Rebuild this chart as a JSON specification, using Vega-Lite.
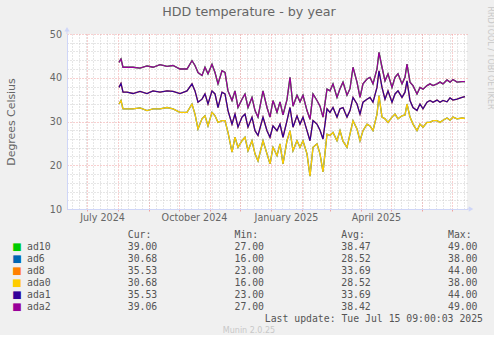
{
 "$schema": "https://vega.github.io/schema/vega-lite/v6.json",
 "background": "#f0f0f0",
 "padding": {"left": 5, "top": 5, "right": 0, "bottom": 0},
 "bounds": "flush",
 "spacing": 26,
 "config": {
  "view": {"stroke": null},
  "font": "DejaVu Sans",
  "axis": {"labelFont": "DejaVu Sans", "labelFontSize": 9.6, "labelColor": "#666666", "titleFont": "DejaVu Sans", "titleFontWeight": "normal", "titleColor": "#666666", "domainColor": "#CFD6F8", "gridDash": [1, 2], "ticks": false, "tickSize": 0}
 },
 "datasets": {
  "temps": [
   {"t": "2024-08-02", "top": 43.5, "mid": 37.8, "bot": 34.0},
   {"t": "2024-08-04", "top": 44.3, "mid": 38.7, "bot": 34.8},
   {"t": "2024-08-06", "top": 42.4, "mid": 36.7, "bot": 32.9},
   {"t": "2024-08-10", "top": 42.4, "mid": 36.7, "bot": 32.9},
   {"t": "2024-08-16", "top": 42.4, "mid": 36.4, "bot": 32.9},
   {"t": "2024-08-23", "top": 42.2, "mid": 36.9, "bot": 33.1},
   {"t": "2024-08-30", "top": 42.7, "mid": 36.4, "bot": 32.5},
   {"t": "2024-09-05", "top": 42.4, "mid": 37.0, "bot": 32.9},
   {"t": "2024-09-12", "top": 43.0, "mid": 36.7, "bot": 32.9},
   {"t": "2024-09-19", "top": 42.6, "mid": 37.0, "bot": 33.2},
   {"t": "2024-09-25", "top": 42.8, "mid": 36.9, "bot": 32.9},
   {"t": "2024-10-02", "top": 42.0, "mid": 36.4, "bot": 32.1},
   {"t": "2024-10-09", "top": 42.0, "mid": 37.0, "bot": 32.1},
   {"t": "2024-10-14", "top": 43.9, "mid": 38.6, "bot": 34.0},
   {"t": "2024-10-17", "top": 42.8, "mid": 37.0, "bot": 31.7},
   {"t": "2024-10-20", "top": 41.2, "mid": 34.4, "bot": 28.3},
   {"t": "2024-10-24", "top": 40.5, "mid": 35.1, "bot": 30.6},
   {"t": "2024-10-27", "top": 42.4, "mid": 36.3, "bot": 31.3},
   {"t": "2024-10-30", "top": 40.9, "mid": 34.0, "bot": 29.0},
   {"t": "2024-11-03", "top": 43.1, "mid": 37.0, "bot": 32.1},
   {"t": "2024-11-06", "top": 41.2, "mid": 36.3, "bot": 31.3},
   {"t": "2024-11-09", "top": 38.6, "mid": 33.2, "bot": 29.8},
   {"t": "2024-11-13", "top": 41.6, "mid": 36.7, "bot": 30.2},
   {"t": "2024-11-16", "top": 41.2, "mid": 36.3, "bot": 30.2},
   {"t": "2024-11-19", "top": 37.0, "mid": 32.5, "bot": 27.5},
   {"t": "2024-11-23", "top": 34.8, "mid": 29.4, "bot": 23.0},
   {"t": "2024-11-26", "top": 37.0, "mid": 31.7, "bot": 26.4},
   {"t": "2024-11-29", "top": 33.2, "mid": 28.7, "bot": 24.1},
   {"t": "2024-12-03", "top": 35.1, "mid": 31.0, "bot": 25.6},
   {"t": "2024-12-06", "top": 36.3, "mid": 31.7, "bot": 26.4},
   {"t": "2024-12-09", "top": 33.2, "mid": 28.7, "bot": 23.3},
   {"t": "2024-12-13", "top": 35.5, "mid": 31.0, "bot": 25.6},
   {"t": "2024-12-16", "top": 32.5, "mid": 27.9, "bot": 22.6},
   {"t": "2024-12-19", "top": 31.0, "mid": 26.8, "bot": 21.0},
   {"t": "2024-12-24", "top": 37.0, "mid": 31.0, "bot": 25.6},
   {"t": "2024-12-28", "top": 33.2, "mid": 27.9, "bot": 22.6},
   {"t": "2024-12-31", "top": 31.0, "mid": 26.4, "bot": 20.3},
   {"t": "2025-01-03", "top": 34.8, "mid": 29.0, "bot": 24.1},
   {"t": "2025-01-07", "top": 32.1, "mid": 27.9, "bot": 22.2},
   {"t": "2025-01-10", "top": 34.5, "mid": 29.4, "bot": 24.9},
   {"t": "2025-01-13", "top": 31.5, "mid": 26.4, "bot": 20.3},
   {"t": "2025-01-17", "top": 35.0, "mid": 30.2, "bot": 25.6},
   {"t": "2025-01-20", "top": 40.1, "mid": 33.2, "bot": 27.9},
   {"t": "2025-01-23", "top": 33.5, "mid": 28.7, "bot": 23.3},
   {"t": "2025-01-27", "top": 36.0, "mid": 31.3, "bot": 25.6},
   {"t": "2025-01-30", "top": 34.5, "mid": 29.4, "bot": 24.1},
   {"t": "2025-02-02", "top": 36.0, "mid": 31.0, "bot": 25.6},
   {"t": "2025-02-06", "top": 32.5, "mid": 27.9, "bot": 22.6},
   {"t": "2025-02-09", "top": 30.5, "mid": 25.6, "bot": 17.5},
   {"t": "2025-02-12", "top": 36.3, "mid": 30.2, "bot": 24.1},
   {"t": "2025-02-16", "top": 34.8, "mid": 29.4, "bot": 24.9},
   {"t": "2025-02-19", "top": 33.5, "mid": 28.0, "bot": 22.6},
   {"t": "2025-02-22", "top": 31.0, "mid": 26.0, "bot": 18.5},
   {"t": "2025-02-26", "top": 37.4, "mid": 32.9, "bot": 27.1},
   {"t": "2025-03-01", "top": 37.0, "mid": 32.1, "bot": 26.8},
   {"t": "2025-03-04", "top": 38.6, "mid": 33.2, "bot": 27.5},
   {"t": "2025-03-08", "top": 35.5, "mid": 31.0, "bot": 25.6},
   {"t": "2025-03-11", "top": 37.5, "mid": 32.9, "bot": 27.9},
   {"t": "2025-03-14", "top": 39.0, "mid": 33.2, "bot": 25.5},
   {"t": "2025-03-18", "top": 36.0, "mid": 31.0, "bot": 24.1},
   {"t": "2025-03-21", "top": 37.5, "mid": 32.5, "bot": 27.1},
   {"t": "2025-03-24", "top": 42.4, "mid": 35.5, "bot": 30.2},
   {"t": "2025-03-28", "top": 39.0, "mid": 34.0, "bot": 28.3},
   {"t": "2025-03-31", "top": 35.5, "mid": 31.7, "bot": 25.6},
   {"t": "2025-04-03", "top": 38.6, "mid": 34.4, "bot": 27.9},
   {"t": "2025-04-07", "top": 39.7, "mid": 35.1, "bot": 29.4},
   {"t": "2025-04-10", "top": 40.1, "mid": 35.5, "bot": 29.0},
   {"t": "2025-04-13", "top": 38.6, "mid": 34.4, "bot": 27.9},
   {"t": "2025-04-17", "top": 42.0, "mid": 37.8, "bot": 31.7},
   {"t": "2025-04-19", "top": 45.8, "mid": 41.6, "bot": 35.9},
   {"t": "2025-04-22", "top": 42.4, "mid": 37.8, "bot": 31.0},
   {"t": "2025-04-25", "top": 39.3, "mid": 35.1, "bot": 30.6},
   {"t": "2025-04-28", "top": 40.9, "mid": 37.0, "bot": 29.8},
   {"t": "2025-05-02", "top": 37.8, "mid": 34.4, "bot": 31.0},
   {"t": "2025-05-05", "top": 40.1, "mid": 36.3, "bot": 31.7},
   {"t": "2025-05-08", "top": 40.9, "mid": 37.0, "bot": 30.6},
   {"t": "2025-05-12", "top": 38.6, "mid": 35.5, "bot": 31.3},
   {"t": "2025-05-15", "top": 40.1, "mid": 36.7, "bot": 31.5},
   {"t": "2025-05-17", "top": 43.1, "mid": 39.3, "bot": 34.0},
   {"t": "2025-05-20", "top": 39.0, "mid": 34.8, "bot": 31.0},
   {"t": "2025-05-23", "top": 38.2, "mid": 33.2, "bot": 29.4},
   {"t": "2025-05-27", "top": 36.3, "mid": 32.5, "bot": 27.9},
   {"t": "2025-05-30", "top": 37.8, "mid": 34.0, "bot": 29.4},
   {"t": "2025-06-02", "top": 37.4, "mid": 32.9, "bot": 28.7},
   {"t": "2025-06-06", "top": 38.2, "mid": 34.4, "bot": 29.8},
   {"t": "2025-06-09", "top": 38.6, "mid": 34.8, "bot": 29.8},
   {"t": "2025-06-12", "top": 38.2, "mid": 34.4, "bot": 30.2},
   {"t": "2025-06-16", "top": 38.6, "mid": 34.9, "bot": 30.2},
   {"t": "2025-06-19", "top": 39.0, "mid": 34.4, "bot": 29.8},
   {"t": "2025-06-22", "top": 38.6, "mid": 34.8, "bot": 30.3},
   {"t": "2025-06-26", "top": 39.5, "mid": 34.5, "bot": 30.8},
   {"t": "2025-06-29", "top": 39.0, "mid": 35.4, "bot": 30.3},
   {"t": "2025-07-02", "top": 39.6, "mid": 34.9, "bot": 31.0},
   {"t": "2025-07-06", "top": 39.0, "mid": 35.1, "bot": 30.6},
   {"t": "2025-07-11", "top": 39.1, "mid": 35.5, "bot": 30.8},
   {"t": "2025-07-14", "top": 39.1, "mid": 35.7, "bot": 30.7}
  ],
  "legend": [
   {"name": "ad10", "cur": "39.00", "min": "27.00", "avg": "38.47", "max": "49.00"},
   {"name": "ad6", "cur": "30.68", "min": "16.00", "avg": "28.52", "max": "38.00"},
   {"name": "ad8", "cur": "35.53", "min": "23.00", "avg": "33.69", "max": "44.00"},
   {"name": "ada0", "cur": "30.68", "min": "16.00", "avg": "28.52", "max": "38.00"},
   {"name": "ada1", "cur": "35.53", "min": "23.00", "avg": "33.69", "max": "44.00"},
   {"name": "ada2", "cur": "39.06", "min": "27.00", "avg": "38.42", "max": "49.00"}
  ],
  "heads": [
   {"col": "cur", "label": "Cur:"},
   {"col": "min", "label": "Min:"},
   {"col": "avg", "label": "Avg:"},
   {"col": "max", "label": "Max:"}
  ]
 },
 "vconcat": [
  {
   "width": 400,
   "height": 175,
   "view": {"fill": "#ffffff", "stroke": null},
   "title": {"text": "HDD temperature - by year", "fontSize": 12.7, "fontWeight": "normal", "color": "#666666", "anchor": "middle", "frame": "group", "dx": -18, "offset": -13},
   "data": {"name": "temps"},
   "resolve": {"axis": {"x": "independent", "y": "independent"}},
   "layer": [
    {
     "mark": {"type": "line", "color": "#00cc00", "strokeWidth": 1.3},
     "encoding": {
      "x": {"field": "t", "type": "temporal", "scale": {"type": "utc", "domain": [{"year": 2024, "month": 6, "date": 11, "utc": true}, {"year": 2025, "month": 7, "date": 16, "utc": true}]},
            "axis": {"orient": "bottom", "tickCount": {"interval": "week", "step": 1}, "grid": true, "gridColor": "#cccccc", "labels": false, "domain": false, "title": null}},
      "y": {"field": "top", "type": "quantitative", "scale": {"domain": [10, 50], "nice": false, "zero": false},
            "axis": {"orient": "left", "values": [12, 14, 16, 18, 22, 24, 26, 28, 32, 34, 36, 38, 42, 44, 46, 48], "grid": true, "gridColor": "#cccccc", "labels": false, "domain": false, "title": null}}
     }
    },
    {
     "mark": {"type": "line", "color": "#0066b3", "strokeWidth": 1.3},
     "encoding": {
      "x": {"field": "t", "type": "temporal",
            "axis": {"orient": "bottom", "values": [{"year": 2024, "month": 7, "date": 1, "utc": true}, {"year": 2024, "month": 8, "date": 1, "utc": true}, {"year": 2024, "month": 9, "date": 1, "utc": true}, {"year": 2024, "month": 10, "date": 1, "utc": true}, {"year": 2024, "month": 11, "date": 1, "utc": true}, {"year": 2024, "month": 12, "date": 1, "utc": true}, {"year": 2025, "month": 1, "date": 1, "utc": true}, {"year": 2025, "month": 2, "date": 1, "utc": true}, {"year": 2025, "month": 3, "date": 1, "utc": true}, {"year": 2025, "month": 4, "date": 1, "utc": true}, {"year": 2025, "month": 5, "date": 1, "utc": true}, {"year": 2025, "month": 6, "date": 1, "utc": true}, {"year": 2025, "month": 7, "date": 1, "utc": true}],
                     "grid": true, "gridColor": "#f0a0a0", "ticks": true, "tickSize": 2, "tickColor": "#f0a0a0", "labels": false, "domain": false, "title": null}},
      "y": {"field": "bot", "type": "quantitative",
            "axis": {"orient": "left", "values": [10, 20, 30, 40, 50], "grid": true, "gridColor": "#f0a0a0", "labels": false, "domain": false, "title": null}}
     }
    },
    {
     "mark": {"type": "line", "color": "#ff8000", "strokeWidth": 1.3},
     "encoding": {
      "x": {"field": "t", "type": "temporal",
            "axis": {"orient": "bottom", "values": [{"year": 2024, "month": 7, "date": 1, "utc": true}, {"year": 2024, "month": 10, "date": 1, "utc": true}, {"year": 2025, "month": 1, "date": 1, "utc": true}, {"year": 2025, "month": 4, "date": 1, "utc": true}],
                     "format": "%B %Y", "labelOffset": 15, "labelPadding": 3, "grid": false, "domain": true, "title": null, "labelFlush": false, "labelOverlap": false}},
      "y": {"field": "mid", "type": "quantitative",
            "axis": {"orient": "left", "values": [10, 20, 30, 40, 50], "labelPadding": 5.5, "grid": false, "domain": true, "title": "Degrees Celsius", "titleFontSize": 10.9, "titleAngle": -90, "titleX": -56, "titleY": 87.5, "titleAlign": "center", "titleBaseline": "middle", "labelFlush": false}}
     }
    },
    {
     "mark": {"type": "line", "color": "#ffcc00", "strokeWidth": 1.3},
     "encoding": {
      "x": {"field": "t", "type": "temporal", "axis": null},
      "y": {"field": "bot", "type": "quantitative",
            "axis": {"orient": "right", "labels": false, "grid": false, "domain": false, "title": "RRDTOOL / TOBI OETIKER", "titleFontSize": 8, "titleColor": "#c8c8c8", "titleAngle": 90, "titleX": 22.5, "titleY": -28, "titleAlign": "left", "titleBaseline": "middle"}}
     }
    },
    {
     "mark": {"type": "line", "color": "#330099", "strokeWidth": 1.3},
     "encoding": {
      "x": {"field": "t", "type": "temporal", "axis": null},
      "y": {"field": "mid", "type": "quantitative", "axis": null}
     }
    },
    {
     "mark": {"type": "line", "color": "#990099", "strokeWidth": 1.3},
     "encoding": {
      "x": {"field": "t", "type": "temporal", "axis": null},
      "y": {"field": "top", "type": "quantitative", "axis": null}
     }
    },
    {
     "data": {"values": [{}]},
     "mark": {"type": "rule", "color": "#CFD6F8"},
     "encoding": {
      "x": {"datum": {"year": 2024, "month": 6, "date": 11, "utc": true}, "type": "temporal", "axis": null},
      "y": {"datum": 50, "type": "quantitative", "axis": null},
      "y2": {"datum": 51.2}
     }
    },
    {
     "data": {"values": [{}]},
     "mark": {"type": "point", "shape": "triangle-up", "filled": true, "size": 28, "color": "#CFD6F8", "opacity": 1},
     "encoding": {
      "x": {"datum": {"year": 2024, "month": 6, "date": 11, "utc": true}, "type": "temporal", "axis": null},
      "y": {"datum": 51.1, "type": "quantitative", "axis": null}
     }
    },
    {
     "data": {"values": [{}]},
     "mark": {"type": "rule", "color": "#CFD6F8"},
     "encoding": {
      "x": {"datum": {"year": 2025, "month": 7, "date": 16, "utc": true}, "type": "temporal", "axis": null},
      "x2": {"datum": {"year": 2025, "month": 7, "date": 19, "utc": true}},
      "y": {"datum": 10, "type": "quantitative", "axis": null}
     }
    },
    {
     "data": {"values": [{}]},
     "mark": {"type": "point", "shape": "triangle-right", "filled": true, "size": 28, "color": "#CFD6F8", "opacity": 1},
     "encoding": {
      "x": {"datum": {"year": 2025, "month": 7, "date": 20, "utc": true}, "type": "temporal", "axis": null},
      "y": {"datum": 10, "type": "quantitative", "axis": null}
     }
    }
   ]
  },
  {
   "width": 427,
   "height": 96,
   "data": {"name": "legend"},
   "layer": [
    {
     "mark": {"type": "text", "font": "DejaVu Sans", "fontSize": 10, "align": "center", "baseline": "middle", "dx": -50, "text": "■"},
     "encoding": {
      "x": {"datum": "name", "type": "nominal", "scale": {"type": "point", "domain": ["name", "cur", "min", "avg", "max"], "padding": 0}, "axis": null},
      "y": {"field": "name", "type": "nominal", "scale": {"type": "point", "domain": ["hdr", "ad10", "ad6", "ad8", "ada0", "ada1", "ada2", "upd", "ver"], "padding": 0}, "axis": null},
      "color": {"field": "name", "type": "nominal", "scale": {"domain": ["ad10", "ad6", "ad8", "ada0", "ada1", "ada2"], "range": ["#00cc00", "#0066b3", "#ff8000", "#ffcc00", "#330099", "#990099"]}, "legend": null}
     }
    },
    {
     "mark": {"type": "text", "font": "DejaVu Sans Mono", "fontSize": 9.8, "color": "#555555", "align": "left", "baseline": "middle", "dx": -40},
     "encoding": {"x": {"datum": "name", "type": "nominal"}, "y": {"field": "name", "type": "nominal"}, "text": {"field": "name"}}
    },
    {
     "mark": {"type": "text", "font": "DejaVu Sans Mono", "fontSize": 9.8, "color": "#555555", "align": "left", "baseline": "middle", "dx": -46},
     "encoding": {"x": {"datum": "cur", "type": "nominal"}, "y": {"field": "name", "type": "nominal"}, "text": {"field": "cur"}}
    },
    {
     "mark": {"type": "text", "font": "DejaVu Sans Mono", "fontSize": 9.8, "color": "#555555", "align": "left", "baseline": "middle", "dx": -46},
     "encoding": {"x": {"datum": "min", "type": "nominal"}, "y": {"field": "name", "type": "nominal"}, "text": {"field": "min"}}
    },
    {
     "mark": {"type": "text", "font": "DejaVu Sans Mono", "fontSize": 9.8, "color": "#555555", "align": "left", "baseline": "middle", "dx": -46},
     "encoding": {"x": {"datum": "avg", "type": "nominal"}, "y": {"field": "name", "type": "nominal"}, "text": {"field": "avg"}}
    },
    {
     "mark": {"type": "text", "font": "DejaVu Sans Mono", "fontSize": 9.8, "color": "#555555", "align": "left", "baseline": "middle", "dx": -46},
     "encoding": {"x": {"datum": "max", "type": "nominal"}, "y": {"field": "name", "type": "nominal"}, "text": {"field": "max"}}
    },
    {
     "data": {"name": "heads"},
     "mark": {"type": "text", "font": "DejaVu Sans Mono", "fontSize": 9.8, "color": "#555555", "align": "left", "baseline": "middle", "dx": -46},
     "encoding": {"x": {"field": "col", "type": "nominal"}, "y": {"datum": "hdr", "type": "nominal"}, "text": {"field": "label"}}
    },
    {
     "data": {"values": [{"s": "Last update: Tue Jul 15 09:00:03 2025"}]},
     "mark": {"type": "text", "font": "DejaVu Sans Mono", "fontSize": 9.8, "color": "#555555", "align": "right", "baseline": "middle", "dx": -11},
     "encoding": {"x": {"datum": "max", "type": "nominal"}, "y": {"datum": "upd", "type": "nominal"}, "text": {"field": "s"}}
    },
    {
     "data": {"values": [{"s": "Munin 2.0.25"}]},
     "mark": {"type": "text", "font": "DejaVu Sans", "fontSize": 8, "color": "#c8c8c8", "align": "center", "baseline": "middle", "dx": -31.5},
     "encoding": {"x": {"datum": "min", "type": "nominal"}, "y": {"datum": "ver", "type": "nominal"}, "text": {"field": "s"}}
    }
   ]
  }
 ]
}
